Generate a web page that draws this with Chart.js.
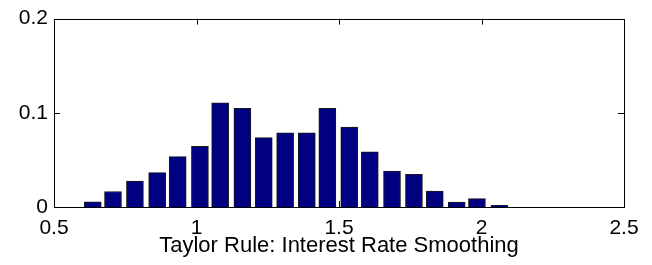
<!DOCTYPE html>
<html>
<head>
<meta charset="utf-8">
<script src="https://cdn.jsdelivr.net/npm/chart.js@4/dist/chart.umd.min.js"></script>
<style>
  html, body { margin: 0; padding: 0; background: #fff; }
  #wrap { width: 652px; height: 265px; }
</style>
</head>
<body>
<div id="wrap"><canvas id="chart" width="652" height="265"></canvas></div>
<script>
// histogram bin centres and relative frequencies
const binCenters = [0.636, 0.707, 0.784, 0.862, 0.934, 1.012, 1.083, 1.161, 1.236, 1.311,
                    1.387, 1.459, 1.536, 1.608, 1.686, 1.763, 1.836, 1.913, 1.984, 2.063];
const frequencies = [0.0055, 0.0165, 0.0276, 0.0365, 0.0535, 0.0645, 0.1105, 0.1047, 0.0737, 0.0787,
                     0.0787, 0.1047, 0.0849, 0.0586, 0.0382, 0.0348, 0.0168, 0.0052, 0.0089, 0.0018];
const xTicks = [0.5, 1, 1.5, 2, 2.5];
const yTicks = [0, 0.1, 0.2];
const xLabel = 'Taylor Rule: Interest Rate Smoothing';

const FAMILY = '"Liberation Sans", Arial, Helvetica, sans-serif';
const TICK_FONT = { family: FAMILY, size: 21 };
const TITLE_FONT = { family: FAMILY, size: 22 };
const TICK_LEN = 6;

// MATLAB style: inward tick marks on all four sides, drawn under the bars
const innerTicks = {
  id: 'innerTicks',
  beforeDatasetsDraw(chart) {
    const { ctx, chartArea: a, scales: { x, y } } = chart;
    ctx.save();
    ctx.strokeStyle = '#000';
    ctx.lineWidth = 1;
    ctx.beginPath();
    xTicks.slice(1, -1).forEach(v => {
      const px = Math.round(x.getPixelForValue(v)) + 0.5;
      ctx.moveTo(px, a.bottom); ctx.lineTo(px, a.bottom - TICK_LEN);
      ctx.moveTo(px, a.top); ctx.lineTo(px, a.top + TICK_LEN);
    });
    yTicks.slice(1, -1).forEach(v => {
      const py = Math.round(y.getPixelForValue(v)) + 0.5;
      ctx.moveTo(a.left, py); ctx.lineTo(a.left + TICK_LEN, py);
      ctx.moveTo(a.right, py); ctx.lineTo(a.right - TICK_LEN, py);
    });
    ctx.stroke();
    ctx.restore();
  },
  afterDraw(chart) {
    const { ctx, chartArea: a } = chart;
    ctx.save();
    ctx.strokeStyle = '#000';
    ctx.lineWidth = 1;
    ctx.strokeRect(Math.round(a.left) + 0.5, Math.round(a.top) + 0.5,
                   Math.round(a.right - a.left), Math.round(a.bottom - a.top));
    ctx.restore();
  }
};

const ctx = document.getElementById('chart').getContext('2d');

const chart = new Chart(ctx, {
  type: 'bar',
  data: {
    datasets: [{
      data: binCenters.map((c, i) => ({ x: c, y: frequencies[i] })),
      backgroundColor: '#000080',
      borderColor: '#1a1a1a',
      borderWidth: 1,
      borderSkipped: 'start',
      barThickness: 17
    }]
  },
  options: {
    responsive: false,
    animation: false,
    events: [],
    layout: { padding: { top: 11, right: 28, left: 0, bottom: 0 } },
    plugins: { legend: { display: false }, tooltip: { enabled: false } },
    scales: {
      x: {
        type: 'linear',
        offset: false,
        min: 0.5,
        max: 2.5,
        afterBuildTicks: s => { s.ticks = xTicks.map(v => ({ value: v })); },
        afterFit: s => { s.height = 58; },
        grid: { display: false, drawTicks: false },
        border: { display: false },
        ticks: {
          font: TICK_FONT, color: '#000', padding: 9,
          maxRotation: 0, autoSkip: false,
          callback: v => String(v)
        },
        title: {
          display: true, text: xLabel, font: TITLE_FONT, color: '#000',
          padding: { top: 0, bottom: 6 }
        }
      },
      y: {
        min: 0,
        max: 0.2,
        afterBuildTicks: s => { s.ticks = yTicks.map(v => ({ value: v })); },
        afterFit: s => { s.width = 54; },
        grid: { display: false, drawTicks: false },
        border: { display: false },
        ticks: {
          font: TICK_FONT, color: '#000', padding: 6,
          autoSkip: false,
          callback: v => String(v)
        }
      }
    }
  },
  plugins: [innerTicks]
});
</script>
</body>
</html>
